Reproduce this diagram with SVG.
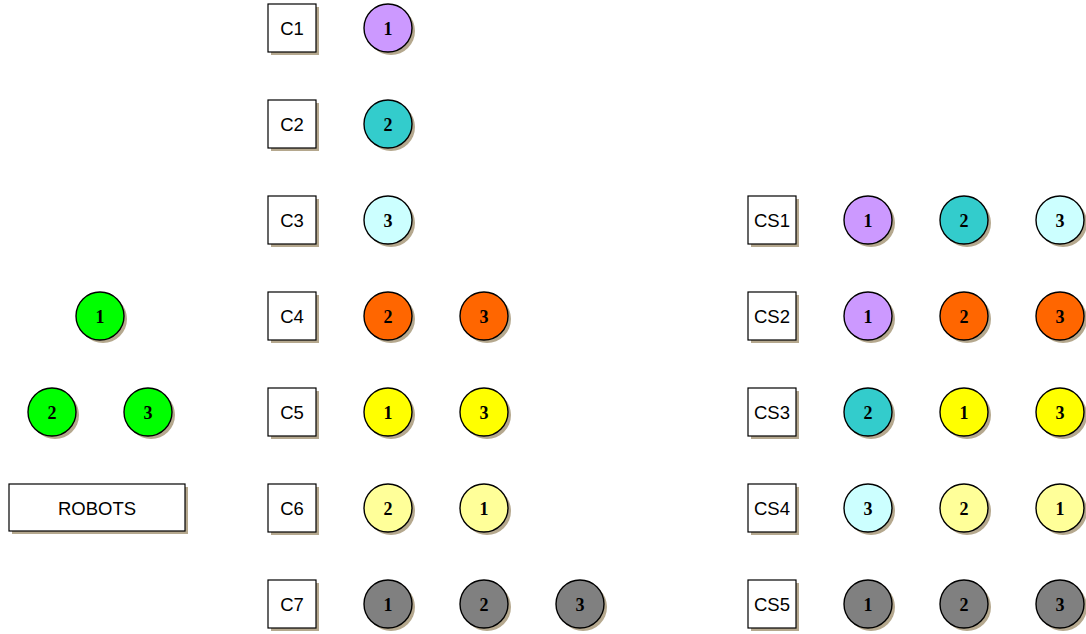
<svg xmlns="http://www.w3.org/2000/svg" width="1086" height="634" viewBox="0 0 1086 634">
<style>
.sh{fill:#b5a88e}
.bx{fill:#fff;stroke:#000;stroke-width:1.2}
.c{stroke:#000;stroke-width:1.4}
.bt{font-family:"Liberation Sans",Arial,sans-serif;font-size:18.5px;text-anchor:middle;dominant-baseline:central}
.ct{font-family:"Liberation Serif","Times New Roman",serif;font-size:18px;font-weight:bold;text-anchor:middle;dominant-baseline:central}
.p{fill:#cc99ff}.t{fill:#33cccc}.lc{fill:#ccffff}.o{fill:#ff6600}.y{fill:#ffff00}.ly{fill:#ffff99}.g{fill:#808080}.gr{fill:#00ff00}
</style>
<defs>
<g id="box"><rect class="sh" x="-21" y="-21" width="48" height="48"/><rect class="bx" x="-24" y="-24" width="48" height="48"/></g>
<circle id="csh" class="sh" cx="3" cy="3" r="24"/>
</defs>
<g id="connectors"/>
<g id="robots">
<rect class="sh" x="12" y="487" width="176" height="47"/>
<rect class="bx" x="9" y="484" width="176" height="47"/>
<text class="bt" x="97" y="508">ROBOTS</text>
</g>
<g id="r1"><use href="#csh" x="100" y="316"/><circle class="c gr" cx="100" cy="316" r="24"/><text class="ct" x="100" y="316.5">1</text></g>
<g id="r2"><use href="#csh" x="52" y="412"/><circle class="c gr" cx="52" cy="412" r="24"/><text class="ct" x="52" y="412.5">2</text></g>
<g id="r3"><use href="#csh" x="148" y="412"/><circle class="c gr" cx="148" cy="412" r="24"/><text class="ct" x="148" y="412.5">3</text></g>

<g id="C1"><use href="#box" x="292" y="28"/><text class="bt" x="292" y="28">C1</text></g>
<g id="C2"><use href="#box" x="292" y="124"/><text class="bt" x="292" y="124">C2</text></g>
<g id="C3"><use href="#box" x="292" y="220"/><text class="bt" x="292" y="220">C3</text></g>
<g id="C4"><use href="#box" x="292" y="316"/><text class="bt" x="292" y="316">C4</text></g>
<g id="C5"><use href="#box" x="292" y="412"/><text class="bt" x="292" y="412">C5</text></g>
<g id="C6"><use href="#box" x="292" y="508"/><text class="bt" x="292" y="508">C6</text></g>
<g id="C7"><use href="#box" x="292" y="604"/><text class="bt" x="292" y="604">C7</text></g>

<g id="c1a"><use href="#csh" x="388" y="28"/><circle class="c p" cx="388" cy="28" r="24"/><text class="ct" x="388" y="28.5">1</text></g>
<g id="c2a"><use href="#csh" x="388" y="124"/><circle class="c t" cx="388" cy="124" r="24"/><text class="ct" x="388" y="124.5">2</text></g>
<g id="c3a"><use href="#csh" x="388" y="220"/><circle class="c lc" cx="388" cy="220" r="24"/><text class="ct" x="388" y="220.5">3</text></g>
<g id="c4a"><use href="#csh" x="388" y="316"/><circle class="c o" cx="388" cy="316" r="24"/><text class="ct" x="388" y="316.5">2</text></g>
<g id="c4b"><use href="#csh" x="484" y="316"/><circle class="c o" cx="484" cy="316" r="24"/><text class="ct" x="484" y="316.5">3</text></g>
<g id="c5a"><use href="#csh" x="388" y="412"/><circle class="c y" cx="388" cy="412" r="24"/><text class="ct" x="388" y="412.5">1</text></g>
<g id="c5b"><use href="#csh" x="484" y="412"/><circle class="c y" cx="484" cy="412" r="24"/><text class="ct" x="484" y="412.5">3</text></g>
<g id="c6a"><use href="#csh" x="388" y="508"/><circle class="c ly" cx="388" cy="508" r="24"/><text class="ct" x="388" y="508.5">2</text></g>
<g id="c6b"><use href="#csh" x="484" y="508"/><circle class="c ly" cx="484" cy="508" r="24"/><text class="ct" x="484" y="508.5">1</text></g>
<g id="c7a"><use href="#csh" x="388" y="604"/><circle class="c g" cx="388" cy="604" r="24"/><text class="ct" x="388" y="604.5">1</text></g>
<g id="c7b"><use href="#csh" x="484" y="604"/><circle class="c g" cx="484" cy="604" r="24"/><text class="ct" x="484" y="604.5">2</text></g>
<g id="c7c"><use href="#csh" x="580" y="604"/><circle class="c g" cx="580" cy="604" r="24"/><text class="ct" x="580" y="604.5">3</text></g>

<g id="CS1"><use href="#box" x="772" y="220"/><text class="bt" x="772" y="220">CS1</text></g>
<g id="CS2"><use href="#box" x="772" y="316"/><text class="bt" x="772" y="316">CS2</text></g>
<g id="CS3"><use href="#box" x="772" y="412"/><text class="bt" x="772" y="412">CS3</text></g>
<g id="CS4"><use href="#box" x="772" y="508"/><text class="bt" x="772" y="508">CS4</text></g>
<g id="CS5"><use href="#box" x="772" y="604"/><text class="bt" x="772" y="604">CS5</text></g>

<g id="s1a"><use href="#csh" x="868" y="220"/><circle class="c p" cx="868" cy="220" r="24"/><text class="ct" x="868" y="220.5">1</text></g>
<g id="s1b"><use href="#csh" x="964" y="220"/><circle class="c t" cx="964" cy="220" r="24"/><text class="ct" x="964" y="220.5">2</text></g>
<g id="s1c"><use href="#csh" x="1060" y="220"/><circle class="c lc" cx="1060" cy="220" r="24"/><text class="ct" x="1060" y="220.5">3</text></g>
<g id="s2a"><use href="#csh" x="868" y="316"/><circle class="c p" cx="868" cy="316" r="24"/><text class="ct" x="868" y="316.5">1</text></g>
<g id="s2b"><use href="#csh" x="964" y="316"/><circle class="c o" cx="964" cy="316" r="24"/><text class="ct" x="964" y="316.5">2</text></g>
<g id="s2c"><use href="#csh" x="1060" y="316"/><circle class="c o" cx="1060" cy="316" r="24"/><text class="ct" x="1060" y="316.5">3</text></g>
<g id="s3a"><use href="#csh" x="868" y="412"/><circle class="c t" cx="868" cy="412" r="24"/><text class="ct" x="868" y="412.5">2</text></g>
<g id="s3b"><use href="#csh" x="964" y="412"/><circle class="c y" cx="964" cy="412" r="24"/><text class="ct" x="964" y="412.5">1</text></g>
<g id="s3c"><use href="#csh" x="1060" y="412"/><circle class="c y" cx="1060" cy="412" r="24"/><text class="ct" x="1060" y="412.5">3</text></g>
<g id="s4a"><use href="#csh" x="868" y="508"/><circle class="c lc" cx="868" cy="508" r="24"/><text class="ct" x="868" y="508.5">3</text></g>
<g id="s4b"><use href="#csh" x="964" y="508"/><circle class="c ly" cx="964" cy="508" r="24"/><text class="ct" x="964" y="508.5">2</text></g>
<g id="s4c"><use href="#csh" x="1060" y="508"/><circle class="c ly" cx="1060" cy="508" r="24"/><text class="ct" x="1060" y="508.5">1</text></g>
<g id="s5a"><use href="#csh" x="868" y="604"/><circle class="c g" cx="868" cy="604" r="24"/><text class="ct" x="868" y="604.5">1</text></g>
<g id="s5b"><use href="#csh" x="964" y="604"/><circle class="c g" cx="964" cy="604" r="24"/><text class="ct" x="964" y="604.5">2</text></g>
<g id="s5c"><use href="#csh" x="1060" y="604"/><circle class="c g" cx="1060" cy="604" r="24"/><text class="ct" x="1060" y="604.5">3</text></g>
</svg>
